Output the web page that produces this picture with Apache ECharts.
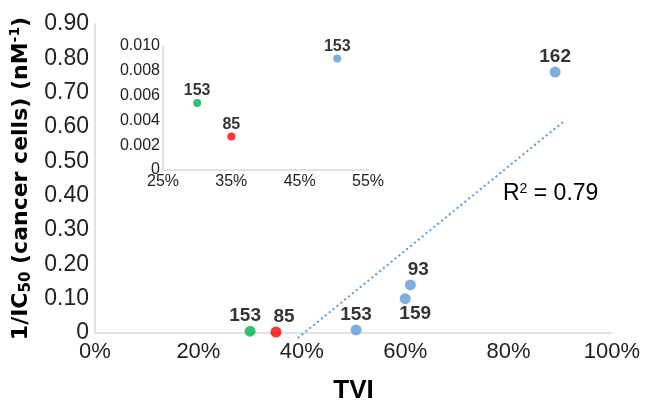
<!DOCTYPE html>
<html>
<head>
<meta charset="utf-8">
<script src="https://cdn.jsdelivr.net/npm/echarts@6/dist/echarts.min.js"></script>
<style>
  html, body { margin: 0; padding: 0; background: #fff; }
  #chart { width: 650px; height: 409px; }
</style>
</head>
<body>
<div id="chart"></div>
<script>
// Compound labels, tumour vascular index and potency (1/IC50, nM^-1)
const compounds = ['153', '85', '153', '159', '93', '162'];
const tvi = [0.30, 0.35, 0.505, 0.60, 0.61, 0.89];
const invIC50 = [0.0054, 0.0027, 0.009, 0.10, 0.14, 0.76];
const groups = ['A', 'B', 'C', 'C', 'C', 'C'];

// Axis ticks
const mainXTicks = [0, 0.2, 0.4, 0.6, 0.8, 1.0];
const mainYTicks = [0, 0.1, 0.2, 0.3, 0.4, 0.5, 0.6, 0.7, 0.8, 0.9];
const insetXTicks = [0.25, 0.35, 0.45, 0.55];
const insetYTicks = [0, 0.002, 0.004, 0.006, 0.008, 0.010];
const rSquaredText = '0.79';
const trendEndX = 0.905;

const groupColor = { A: '#00B050', B: '#FF0000', C: '#5B9BD5' };
const FONT = 'Liberation Sans, Arial, sans-serif';
const TITLE_FONT = 'DejaVu Sans, Liberation Sans, sans-serif';

// label nudges (px) so neighbouring labels don't collide
const labelNudge = { 0: [-5, 0], 1: [8, 0], 3: [10, 0], 4: [8, 0] };

// least-squares line through all points
function linearFit(xs, ys) {
  const n = xs.length;
  const mx = xs.reduce((a, b) => a + b, 0) / n;
  const my = ys.reduce((a, b) => a + b, 0) / n;
  let sxy = 0, sxx = 0;
  for (let i = 0; i < n; i++) { sxy += (xs[i] - mx) * (ys[i] - my); sxx += (xs[i] - mx) ** 2; }
  const slope = sxy / sxx;
  return { slope, intercept: my - slope * mx };
}
const fit = linearFit(tvi, invIC50);
const trendStartX = -fit.intercept / fit.slope - 0.012;
const trendData = [trendStartX, trendEndX].map(x => [x, fit.slope * x + fit.intercept]);

const points = tvi.map((x, i) => {
  const label = { offset: labelNudge[i] || [0, 0] };
  if (compounds[i] === '159') { label.position = 'bottom'; }
  return {
    value: [x, invIC50[i]],
    name: compounds[i],
    itemStyle: { color: groupColor[groups[i]] },
    label
  };
});

const insetPoints = points.filter(p =>
  p.value[0] >= insetXTicks[0] && p.value[0] <= insetXTicks[insetXTicks.length - 1] &&
  p.value[1] <= insetYTicks[insetYTicks.length - 1]
).map(p => ({ value: p.value, name: p.name, itemStyle: p.itemStyle }));

const axisLineStyle = { lineStyle: { color: '#D9D9D9', width: 1.5 } };

const chart = echarts.init(document.getElementById('chart'), null, { renderer: 'canvas' });
chart.setOption({
  animation: false,
  backgroundColor: '#fff',
  textStyle: { fontFamily: FONT },
  grid: [
    { left: 95, right: 38, top: 24, bottom: 76 },
    { left: 163, width: 205, top: 46, height: 124 }
  ],
  xAxis: [
    {
      gridIndex: 0, type: 'value', min: 0, max: 1, interval: 0.2,
      splitLine: { show: false }, axisTick: { show: false },
      axisLine: axisLineStyle,
      axisLabel: {
        color: '#222', fontSize: 22, margin: 8, fontFamily: FONT,
        customValues: mainXTicks,
        formatter: v => Math.round(v * 100) + '%'
      },
      name: 'TVI', nameLocation: 'middle', nameGap: 45,
      nameTextStyle: { fontSize: 26, fontWeight: 'bold', color: '#000', fontFamily: FONT }
    },
    {
      gridIndex: 1, type: 'value', min: 0.25, max: 0.55,
      splitLine: { show: false }, axisTick: { show: false },
      axisLine: axisLineStyle,
      axisLabel: {
        color: '#222', fontSize: 16, margin: 4, fontFamily: FONT,
        customValues: insetXTicks,
        formatter: v => Math.round(v * 100) + '%'
      }
    }
  ],
  yAxis: [
    {
      gridIndex: 0, type: 'value', min: 0, max: 0.9, interval: 0.1,
      splitLine: { show: false }, axisTick: { show: false },
      axisLine: { show: true, lineStyle: { color: '#D9D9D9', width: 1.5 } },
      axisLabel: {
        color: '#222', fontSize: 23, margin: 6, fontFamily: FONT,
        customValues: mainYTicks,
        formatter: v => v === 0 ? '0' : v.toFixed(2)
      },
      name: '{b|1/IC}{sub|50}{b| (cancer cells) (nM}{sup|-1}{b|)}',
      nameLocation: 'middle', nameGap: 60, nameRotate: 90,
      nameTextStyle: {
        rich: {
          b: { fontSize: 22, fontWeight: 'bold', color: '#000', fontFamily: TITLE_FONT },
          sub: { fontSize: 15, fontWeight: 'bold', color: '#000', fontFamily: TITLE_FONT, verticalAlign: 'bottom', padding: [10, 0, 0, 0] },
          sup: { fontSize: 14, fontWeight: 'bold', color: '#000', fontFamily: TITLE_FONT, verticalAlign: 'top', padding: [0, 0, 10, 0] }
        }
      }
    },
    {
      gridIndex: 1, type: 'value', min: 0, max: 0.010, interval: 0.002,
      splitLine: { show: false }, axisTick: { show: false },
      axisLine: { show: true, lineStyle: { color: '#D9D9D9', width: 1.5 } },
      axisLabel: {
        color: '#222', fontSize: 16, margin: 3, fontFamily: FONT,
        formatter: v => v === 0 ? '0' : v.toFixed(3)
      }
    }
  ],
  series: [
    {
      type: 'line', xAxisIndex: 0, yAxisIndex: 0, data: trendData,
      showSymbol: false, clip: false, silent: true,
      lineStyle: { color: '#5B9BD5', width: 2, type: [2, 3] },
      z: 1
    },
    {
      type: 'scatter', xAxisIndex: 0, yAxisIndex: 0, data: points,
      symbolSize: 11, z: 3,
      label: {
        show: true, position: 'top', distance: 0,
        formatter: p => p.name,
        fontSize: 19, fontWeight: 'bold', color: '#000', fontFamily: FONT
      }
    },
    {
      type: 'scatter', xAxisIndex: 1, yAxisIndex: 1, data: insetPoints,
      symbolSize: 8, z: 3,
      label: {
        show: true, position: 'top', distance: 0,
        formatter: p => p.name,
        fontSize: 16, fontWeight: 'bold', color: '#000', fontFamily: FONT
      }
    }
  ],
  graphic: [
    {
      type: 'text', left: 503, top: 182,
      style: {
        text: '{r|R}{s|2}{r| = ' + rSquaredText + '}',
        rich: {
          r: { fontSize: 23, color: '#111', fontFamily: FONT },
          s: { fontSize: 14, color: '#111', fontFamily: FONT, verticalAlign: 'top', padding: [0, 0, 9, 0] }
        }
      }
    }
  ]
});
</script>
</body>
</html>
